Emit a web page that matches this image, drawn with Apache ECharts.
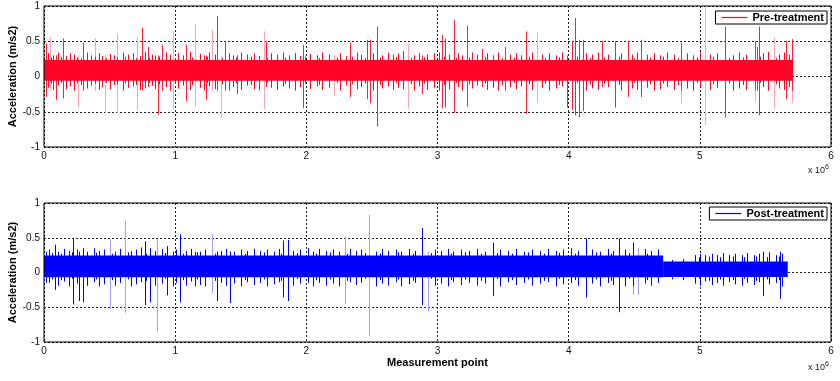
<!DOCTYPE html>
<html><head><meta charset="utf-8">
<script src="https://cdn.jsdelivr.net/npm/echarts@6/dist/echarts.min.js"></script>
<style>html,body{margin:0;padding:0;background:#fff}#c{width:840px;height:381px}</style>
</head><body><div id="c"></div>
<script>
// ---------- data ----------
const xTickLabels = ['0', '1', '2', '3', '4', '5', '6'];   // x 10^6
const yTickValues = [-1, -0.5, 0, 0.5, 1];
const seriesNames = ['Pre-treatment', 'Post-treatment'];

// dense core of the signal: [startPoint, endPoint, low, high]
const preBand  = [[0, 5710000, -0.06, 0.235]];
const postBand = [[0, 4720000, -0.07, 0.245], [4720000, 5670000, -0.065, 0.16]];

// large excursions: [point, high, low]
const preSpikes = [
  [13000, 0.47, -0.29], [91000, 0.3, -0.33], [145000, 0.54, -0.31], [297000, 0.48, -0.2],
  [747000, 0.69, -0.2], [793000, 0.42, -0.15], [869000, 0.3, -0.54], [900000, 0.45, -0.2],
  [1083000, 0.45, -0.35], [1235000, 0.3, -0.33], [1319000, 0.86, -0.2], [1380000, 0.5, -0.2],
  [1471000, 0.3, -0.25], [1693000, 0.5, -0.15], [1975000, 0.45, -0.45], [2333000, 0.48, -0.29],
  [2463000, 0.52, -0.32], [2485000, 0.52, -0.38], [2539000, 0.71, -0.71], [2882000, 0.3, -0.25],
  [3034000, 0.59, -0.45], [3057000, 0.54, -0.44], [3126000, 0.80, -0.52], [3225000, 0.72, -0.43],
  [3339000, 0.39, -0.15], [3515000, 0.42, -0.2], [3675000, 0.64, -0.53], [3987000, 0.3, -0.44],
  [4025000, 0.50, -0.47], [4048000, 0.83, -0.55], [4079000, 0.52, -0.58], [4109000, 0.52, -0.49],
  [4254000, 0.50, -0.15], [4353000, 0.50, -0.44], [4452000, 0.50, -0.29], [4552000, 0.52, -0.29],
  [4856000, 0.48, -0.2], [5192000, 0.71, -0.58], [5421000, 0.50, -0.2], [5436000, 0.42, -0.2],
  [5451000, 0.71, -0.55], [5657000, 0.50, -0.32], [5703000, 0.53, -0.2]
];
const preSpikesFaint = [
  [46000, 0.56, -0.2], [259000, 0.3, -0.43], [389000, 0.54, -0.2], [465000, 0.3, -0.52],
  [557000, 0.61, -0.52], [709000, 0.57, -0.48], [983000, 0.64, -0.47], [1151000, 0.74, -0.43],
  [1281000, 0.66, -0.2], [1349000, 0.3, -0.59], [1677000, 0.64, -0.46], [2211000, 0.3, -0.28],
  [2775000, 0.47, -0.45], [3759000, 0.62, -0.37], [4856000, 0.3, -0.38], [5039000, 1.0, -0.69],
  [5421000, 0.3, -0.35], [5565000, 0.55, -0.45], [5703000, 0.3, -0.38]
];
const postSpikes = [
  [15000, 0.30, -0.15], [84000, 0.40, -0.25], [221000, 0.48, -0.46], [267000, 0.3, -0.41],
  [297000, 0.35, -0.43], [770000, 0.45, -0.47], [808000, 0.35, -0.43], [938000, 0.38, -0.33],
  [1037000, 0.55, -0.43], [1151000, 0.3, -0.2], [1319000, 0.3, -0.41], [1418000, 0.3, -0.44],
  [1822000, 0.46, -0.36], [1860000, 0.47, -0.41], [2013000, 0.35, -0.15], [2882000, 0.64, -0.47],
  [3423000, 0.43, -0.34], [4132000, 0.49, -0.36], [4384000, 0.49, -0.57], [4491000, 0.43, -0.2],
  [5482000, 0.3, -0.34], [5611000, 0.3, -0.38]
];
const postSpikesFaint = [
  [503000, 0.48, -0.53], [618000, 0.75, -0.58], [862000, 0.48, -0.85], [1281000, 0.55, -0.3],
  [2295000, 0.52, -0.46], [2478000, 0.83, -0.92], [2928000, 0.3, -0.56], [4491000, 0.3, -0.32],
  [4528000, 0.35, -0.32]
];

// small excursions just outside the dense core: [point, high, low]
const preFringe = [
  [30000,0.33,-0.16],[70000,0.30,-0.19],[110000,0.34,-0.12],[170000,0.29,-0.18],[200000,0.33,-0.14],
  [230000,0.31,-0.2],[330000,0.34,-0.17],[360000,0.30,-0.13],[420000,0.33,-0.19],[440000,0.29,-0.15],
  [500000,0.32,-0.18],[530000,0.30,-0.12],[600000,0.34,-0.2],[640000,0.31,-0.16],[680000,0.33,-0.14],
  [730000,0.29,-0.19],[770000,0.35,-0.17],[820000,0.31,-0.13],[850000,0.30,-0.18],[930000,0.34,-0.15],
  [960000,0.31,-0.2],[1020000,0.33,-0.17],[1060000,0.30,-0.13],[1110000,0.35,-0.19],[1190000,0.32,-0.16],
  [1220000,0.30,-0.2],[1260000,0.34,-0.14],[1300000,0.31,-0.18],[1410000,0.33,-0.2],[1440000,0.30,-0.15],
  [1500000,0.34,-0.19],[1550000,0.31,-0.13],[1600000,0.33,-0.18],[1640000,0.29,-0.2],[1730000,0.33,-0.16],
  [1780000,0.31,-0.19],[1820000,0.34,-0.14],[1870000,0.30,-0.17],[1910000,0.33,-0.2],[1950000,0.29,-0.15],
  [2030000,0.32,-0.18],[2080000,0.30,-0.14],[2120000,0.34,-0.19],[2170000,0.31,-0.16],[2260000,0.33,-0.2],
  [2300000,0.29,-0.13],[2390000,0.34,-0.18],[2420000,0.31,-0.15],[2510000,0.33,-0.2],[2580000,0.30,-0.17],
  [2620000,0.34,-0.14],[2660000,0.31,-0.19],[2700000,0.33,-0.16],[2740000,0.36,-0.18],[2820000,0.30,-0.2],
  [2860000,0.33,-0.14],[2920000,0.31,-0.19],[2970000,0.33,-0.16],[3010000,0.34,-0.2],[3090000,0.31,-0.18],
  [3160000,0.33,-0.15],[3190000,0.30,-0.2],[3260000,0.34,-0.17],[3300000,0.31,-0.13],[3380000,0.33,-0.19],
  [3420000,0.30,-0.16],[3460000,0.34,-0.2],[3550000,0.31,-0.15],[3600000,0.33,-0.18],[3640000,0.30,-0.14],
  [3720000,0.34,-0.19],[3800000,0.31,-0.16],[3850000,0.33,-0.2],[3900000,0.30,-0.17],[3950000,0.34,-0.14],
  [4130000,0.33,-0.2],[4180000,0.31,-0.17],[4220000,0.34,-0.19],[4300000,0.31,-0.15],[4400000,0.33,-0.2],
  [4480000,0.31,-0.17],[4520000,0.34,-0.19],[4600000,0.31,-0.16],[4650000,0.33,-0.2],[4700000,0.30,-0.18],
  [4750000,0.34,-0.15],[4800000,0.31,-0.19],[4900000,0.33,-0.17],[4950000,0.30,-0.2],[5000000,0.34,-0.15],
  [5080000,0.31,-0.19],[5130000,0.33,-0.16],[5250000,0.30,-0.2],[5300000,0.34,-0.17],[5350000,0.31,-0.19],
  [5480000,0.33,-0.15],[5520000,0.35,-0.2],[5600000,0.31,-0.17],[5640000,0.34,-0.19],[5680000,0.31,-0.15]
];
// shorter ragged edge of the core: [point, high, low]
const preEdge = [
  [50000,0.27,-0.1],[90000,0.26,-0.11],[130000,0.28,-0.09],[250000,0.27,-0.1],[280000,0.26,-0.12],
  [390000,0.28,-0.1],[470000,0.26,-0.09],[560000,0.27,-0.11],[620000,0.28,-0.1],[700000,0.26,-0.12],
  [800000,0.27,-0.09],[880000,0.28,-0.11],[1000000,0.26,-0.1],[1130000,0.27,-0.12],[1240000,0.28,-0.09],
  [1360000,0.26,-0.11],[1460000,0.27,-0.1],[1580000,0.28,-0.12],[1700000,0.26,-0.09],[1840000,0.27,-0.11],
  [1990000,0.28,-0.1],[2100000,0.26,-0.12],[2230000,0.27,-0.09],[2350000,0.28,-0.11],[2450000,0.26,-0.1],
  [2560000,0.27,-0.12],[2680000,0.28,-0.09],[2800000,0.26,-0.11],[2900000,0.27,-0.1],[3050000,0.28,-0.12],
  [3140000,0.26,-0.09],[3240000,0.27,-0.11],[3360000,0.28,-0.1],[3490000,0.26,-0.12],[3580000,0.27,-0.09],
  [3700000,0.28,-0.11],[3820000,0.26,-0.1],[3930000,0.27,-0.12],[4060000,0.28,-0.09],[4160000,0.26,-0.11],
  [4270000,0.27,-0.1],[4380000,0.28,-0.12],[4500000,0.26,-0.09],[4620000,0.27,-0.11],[4720000,0.28,-0.1],
  [4830000,0.26,-0.12],[4980000,0.27,-0.09],[5100000,0.28,-0.11],[5220000,0.26,-0.1],[5330000,0.27,-0.12],
  [5460000,0.28,-0.09],[5580000,0.26,-0.11],[5660000,0.27,-0.1]
];
const postFringe = [
  [40000,0.33,-0.15],[110000,0.30,-0.19],[150000,0.34,-0.13],[190000,0.31,-0.2],[250000,0.33,-0.16],
  [330000,0.30,-0.19],[380000,0.35,-0.14],[420000,0.31,-0.2],[460000,0.33,-0.17],[540000,0.30,-0.19],
  [580000,0.34,-0.15],[660000,0.31,-0.2],[700000,0.33,-0.17],[740000,0.36,-0.14],[850000,0.31,-0.19],
  [900000,0.34,-0.16],[980000,0.30,-0.2],[1010000,0.33,-0.15],[1080000,0.31,-0.19],[1120000,0.34,-0.13],
  [1190000,0.30,-0.18],[1230000,0.33,-0.2],[1350000,0.31,-0.15],[1390000,0.34,-0.19],[1450000,0.30,-0.16],
  [1500000,0.33,-0.2],[1550000,0.31,-0.14],[1600000,0.34,-0.18],[1650000,0.31,-0.15],[1700000,0.33,-0.2],
  [1750000,0.30,-0.17],[1790000,0.34,-0.14],[1900000,0.31,-0.19],[1950000,0.33,-0.16],[2050000,0.30,-0.2],
  [2100000,0.34,-0.15],[2150000,0.31,-0.19],[2200000,0.33,-0.16],[2250000,0.30,-0.2],[2330000,0.34,-0.14],
  [2380000,0.31,-0.18],[2420000,0.33,-0.15],[2530000,0.30,-0.2],[2580000,0.34,-0.16],[2620000,0.31,-0.19],
  [2680000,0.33,-0.14],[2720000,0.30,-0.2],[2780000,0.34,-0.17],[2830000,0.31,-0.15],[2980000,0.33,-0.19],
  [3030000,0.31,-0.16],[3080000,0.34,-0.2],[3120000,0.30,-0.14],[3180000,0.33,-0.18],[3240000,0.31,-0.15],
  [3300000,0.34,-0.19],[3360000,0.30,-0.16],[3480000,0.33,-0.2],[3540000,0.31,-0.14],[3600000,0.34,-0.18],
  [3660000,0.30,-0.15],[3720000,0.33,-0.19],[3780000,0.31,-0.16],[3840000,0.34,-0.14],[3900000,0.31,-0.2],
  [3960000,0.33,-0.17],[4020000,0.35,-0.15],[4070000,0.31,-0.19],[4180000,0.33,-0.16],[4240000,0.30,-0.2],
  [4300000,0.34,-0.15],[4340000,0.31,-0.18],[4430000,0.33,-0.2],[4580000,0.34,-0.16],[4630000,0.31,-0.19],
  [4680000,0.33,-0.15],[4960000,0.25,-0.16],[5000000,0.27,-0.19],[5040000,0.25,-0.13],[5090000,0.27,-0.18],
  [5130000,0.25,-0.15],[5180000,0.28,-0.19],[5220000,0.25,-0.14],[5270000,0.27,-0.17],[5320000,0.25,-0.19],
  [5360000,0.28,-0.15],[5410000,0.25,-0.18],[5450000,0.27,-0.14],[5530000,0.29,-0.17],[5580000,0.25,-0.15],
  [5630000,0.27,-0.2]
];
const postEdge = [
  [60000,0.28,-0.1],[130000,0.27,-0.11],[210000,0.29,-0.09],[300000,0.27,-0.12],[400000,0.28,-0.1],
  [520000,0.27,-0.11],[640000,0.29,-0.1],[780000,0.27,-0.12],[920000,0.28,-0.09],[1060000,0.27,-0.11],
  [1170000,0.29,-0.1],[1300000,0.27,-0.12],[1420000,0.28,-0.09],[1530000,0.27,-0.11],[1680000,0.29,-0.1],
  [1810000,0.27,-0.12],[1930000,0.28,-0.09],[2070000,0.27,-0.11],[2180000,0.29,-0.1],[2310000,0.27,-0.12],
  [2450000,0.28,-0.09],[2560000,0.27,-0.11],[2700000,0.29,-0.1],[2810000,0.27,-0.12],[2950000,0.28,-0.09],
  [3100000,0.27,-0.11],[3210000,0.29,-0.1],[3330000,0.27,-0.12],[3450000,0.28,-0.09],[3570000,0.27,-0.11],
  [3690000,0.29,-0.1],[3810000,0.27,-0.12],[3930000,0.28,-0.09],[4050000,0.27,-0.11],[4210000,0.29,-0.1],
  [4320000,0.27,-0.12],[4460000,0.28,-0.09],[4600000,0.27,-0.11],[4790000,0.18,-0.1],[4870000,0.19,-0.11],
  [4990000,0.22,-0.09],[5070000,0.23,-0.12],[5150000,0.22,-0.1],[5250000,0.23,-0.11],[5340000,0.22,-0.09],
  [5430000,0.23,-0.12],[5510000,0.22,-0.1],[5600000,0.23,-0.11]
];

// ---------- drawing ----------
const RED = '#ff0426', RED_DARK = '#ff1e3c', RED_FAINT = '#ffa3ae';
const BLUE = '#0000ff', BLUE_DARK = '#0000ff', BLUE_FAINT = '#a0a0ff';
const FONT = 'Liberation Sans, Arial, sans-serif';

function spikeRender(color) {
  return function (params, api) {
    const p1 = api.coord([api.value(0), api.value(1)]);
    const p2 = api.coord([api.value(0), api.value(2)]);
    const px = Math.round(p1[0]) + 0.5;
    return { type: 'line', shape: { x1: px, y1: p1[1], x2: px, y2: p2[1] },
      style: { stroke: color, lineWidth: 1 } };
  };
}
function bandRender(color) {
  return function (params, api) {
    const a = api.coord([api.value(0), api.value(3)]);
    const b = api.coord([api.value(1), api.value(2)]);
    return { type: 'rect', shape: { x: a[0], y: a[1], width: b[0] - a[0], height: b[1] - a[1] },
      style: { fill: color } };
  };
}
function spikeSeries(idx, data, color, z) {
  return { type: 'custom', xAxisIndex: idx, yAxisIndex: idx, data: data, z: z, clip: true,
    dimensions: ['x', 'hi', 'lo'], encode: { x: 0, y: [1, 2] },
    renderItem: spikeRender(color), silent: true, animation: false };
}
function bandSeries(idx, data, color) {
  return { type: 'custom', xAxisIndex: idx, yAxisIndex: idx, data: data, z: 5, clip: true,
    dimensions: ['x0', 'x1', 'lo', 'hi'], encode: { x: [0, 1], y: [2, 3] },
    renderItem: bandRender(color), silent: true, animation: false };
}

const grids = [
  { left: 44, right: 9, top: 6, height: 141 },
  { left: 44, right: 9, top: 203, height: 139 }
];
function xAx(idx) {
  const ax = {
    type: 'value', gridIndex: idx, min: 0, max: 6000000, interval: 1000000,
    axisLine: { show: false }, axisTick: { show: false },
    axisLabel: { margin: 4, fontSize: 10, color: '#111', fontFamily: FONT,
      formatter: v => xTickLabels[Math.round(v / 1000000)] },
    splitLine: { show: true, lineStyle: { color: '#222', type: [2, 2], width: 1 } }
  };
  if (idx === 1) {
    ax.name = 'Measurement point'; ax.nameLocation = 'middle'; ax.nameGap = 15; ax.nameMoveOverlap = false;
    ax.nameTextStyle = { fontSize: 11, fontWeight: 'bold', color: '#000', fontFamily: FONT };
  }
  return ax;
}
function yAx(idx) {
  return {
    type: 'value', gridIndex: idx, min: yTickValues[0], max: yTickValues[yTickValues.length - 1], interval: 0.5,
    axisLine: { show: false }, axisTick: { show: false },
    axisLabel: { margin: 4, fontSize: 10, color: '#111', fontFamily: FONT },
    splitLine: { show: true, lineStyle: { color: '#222', type: [2, 2], width: 1 } },
    name: 'Acceleration (m/s2)', nameLocation: 'middle', nameGap: 26, nameMoveOverlap: false,
    nameTextStyle: { fontSize: 11, fontWeight: 'bold', color: '#000', fontFamily: FONT }
  };
}
function legendFor(name, top) {
  return {
    data: [name], right: 13, top: top, orient: 'horizontal',
    backgroundColor: '#fff', borderColor: '#000', borderWidth: 1, borderRadius: 0,
    padding: [1, 3, 1, 6], itemGap: 0, itemWidth: 26, itemHeight: 1.2, icon: 'rect',
    textStyle: { fontSize: 11, fontWeight: 'bold', color: '#000', fontFamily: FONT, padding: [0, 0, 0, 0] },
    selectedMode: false
  };
}

const chart = echarts.init(document.getElementById('c'), null, { renderer: 'canvas' });
chart.setOption({
  animation: false,
  backgroundColor: '#fff',
  grid: grids.map(g => Object.assign({ show: true, borderColor: '#000', borderWidth: 1, backgroundColor: 'transparent', z: 10,
    containLabel: false, outerBoundsMode: 'none' }, g)),
  xAxis: [xAx(0), xAx(1)],
  yAxis: [yAx(0), yAx(1)],
  legend: [legendFor(seriesNames[0], 11), legendFor(seriesNames[1], 207)],
  graphic: [
    { type: 'text', left: 808, top: 164, style: { text: '{a|x 10}{b|6}', rich: {
      a: { fontSize: 9, fill: '#222', fontFamily: FONT }, b: { fontSize: 7, fill: '#222', fontFamily: FONT, verticalAlign: 'top', padding: [0,0,6,0] } } } },
    { type: 'text', left: 808, top: 361, style: { text: '{a|x 10}{b|6}', rich: {
      a: { fontSize: 9, fill: '#222', fontFamily: FONT }, b: { fontSize: 7, fill: '#222', fontFamily: FONT, verticalAlign: 'top', padding: [0,0,6,0] } } } }
  ],
  series: [
    spikeSeries(0, preFringe, RED, 3),
    spikeSeries(0, preEdge, RED, 3),
    spikeSeries(0, preSpikesFaint, RED_FAINT, 2),
    spikeSeries(0, preSpikes, RED_DARK, 4),
    bandSeries(0, preBand, RED),
    { type: 'line', name: seriesNames[0], xAxisIndex: 0, yAxisIndex: 0, data: [], color: RED },
    spikeSeries(1, postFringe, BLUE, 3),
    spikeSeries(1, postEdge, BLUE, 3),
    spikeSeries(1, postSpikesFaint, BLUE_FAINT, 2),
    spikeSeries(1, postSpikes, BLUE_DARK, 4),
    bandSeries(1, postBand, BLUE),
    { type: 'line', name: seriesNames[1], xAxisIndex: 1, yAxisIndex: 1, data: [], color: BLUE }
  ]
});
</script>
</body></html>
